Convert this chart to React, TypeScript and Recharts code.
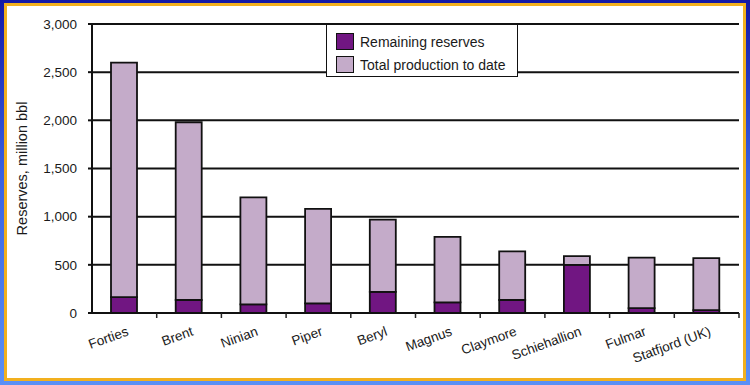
import React from "react";
import { BarChart, Bar, XAxis, YAxis, CartesianGrid, Label } from "recharts";

const fields = ["Forties", "Brent", "Ninian", "Piper", "Beryl", "Magnus", "Claymore", "Schiehallion", "Fulmar", "Statfjord (UK)"];
const remainingReserves = [165, 135, 90, 100, 220, 110, 135, 500, 50, 30];
const productionToDate = [2435, 1845, 1110, 980, 750, 680, 505, 90, 525, 540];
const yTicks = [0, 500, 1000, 1500, 2000, 2500, 3000];
const seriesNames = ["Remaining reserves", "Total production to date"];
const seriesColors = ["#711682", "#c4abc9"];

const data = fields.map((f, i) => ({
  field: f,
  remaining: remainingReserves[i],
  production: productionToDate[i],
}));

const W = 750;
const H = 385;
const MARGIN = { top: 24, right: 11, bottom: 32, left: 0 };
const Y_AXIS_W = 92;
const X_AXIS_H = 40;
const HALF_BAND = (W - MARGIN.right - MARGIN.left - Y_AXIS_W) / fields.length / 2;
const FONT = "'Liberation Sans', Arial, Helvetica, sans-serif";

const fmt = (v: number) => v.toLocaleString("en-US");

const XTick = (props: any) => {
  const { x, y, payload } = props;
  const tx = x + 5;
  const ty = y + 22;
  return (
    <g>
      <line x1={x + HALF_BAND} y1={y} x2={x + HALF_BAND} y2={y + 5} stroke="#222" strokeWidth={1.5} />
      <text
        x={tx}
        y={ty}
        textAnchor="end"
        fontSize={13.5}
        fontFamily={FONT}
        fill="#1a1a1a"
        transform={`rotate(-20, ${tx}, ${ty})`}
      >
        {payload.value}
      </text>
    </g>
  );
};

const YLabel = (props: any) => {
  const vb = props.viewBox || { x: 0, y: 0, height: 0 };
  const cx = vb.x + 22;
  const cy = vb.y + vb.height / 2;
  return (
    <text
      x={cx}
      y={cy}
      textAnchor="middle"
      dominantBaseline="central"
      fontSize={14.5}
      fontFamily={FONT}
      fill="#1a1a1a"
      transform={`rotate(-90, ${cx}, ${cy})`}
    >
      Reserves, million bbl
    </text>
  );
};

export default function App() {
  return (
    <div
      style={{
        position: "absolute",
        left: 0,
        top: 0,
        width: W,
        height: H,
        boxSizing: "border-box",
        background: "linear-gradient(to bottom, #1418a6 0%, #3a62e0 45%, #5b90f6 100%)",
        paddingTop: 3,
        paddingLeft: 4,
        paddingRight: 4,
        paddingBottom: 4,
      }}
    >
      <div
        style={{
          width: "100%",
          height: "100%",
          boxSizing: "border-box",
          border: "3px solid #f2b01e",
          background: "#ffffff",
        }}
      />
      <div style={{ position: "absolute", left: 0, top: 0 }}>
        <BarChart width={W} height={H} data={data} margin={MARGIN} barSize={26}>
          <CartesianGrid vertical={false} stroke="#111" strokeWidth={2} yAxisId="left" />
          <XAxis
            dataKey="field"
            height={X_AXIS_H}
            interval={0}
            tick={<XTick />}
            tickLine={false}
            tickSize={0}
            tickMargin={0}
            axisLine={{ stroke: "#111", strokeWidth: 2 }}
          />
          <YAxis
            yAxisId="left"
            width={Y_AXIS_W}
            domain={[0, 3000]}
            ticks={yTicks}
            interval={0}
            tickFormatter={fmt}
            tickSize={4}
            tickMargin={11}
            tick={{ fontSize: 13.5, fontFamily: FONT, fill: "#1a1a1a" }}
            tickLine={{ stroke: "#111", strokeWidth: 2 }}
            axisLine={{ stroke: "#111", strokeWidth: 2 }}
          >
            <Label content={<YLabel />} />
          </YAxis>
          <YAxis
            yAxisId="right"
            orientation="right"
            width={0}
            domain={[0, 3000]}
            ticks={yTicks}
            tick={false}
            tickLine={false}
            axisLine={{ stroke: "#1a2a1a", strokeWidth: 2 }}
          />
          <Bar
            yAxisId="left"
            dataKey="remaining"
            name={seriesNames[0]}
            stackId="a"
            fill={seriesColors[0]}
            stroke="#111"
            strokeWidth={1.8}
            isAnimationActive={false}
          />
          <Bar
            yAxisId="left"
            dataKey="production"
            name={seriesNames[1]}
            stackId="a"
            fill={seriesColors[1]}
            stroke="#111"
            strokeWidth={1.8}
            isAnimationActive={false}
          />
        </BarChart>
      </div>
      <div
        style={{
          position: "absolute",
          left: 326,
          top: 24,
          width: 192,
          height: 53,
          boxSizing: "border-box",
          border: "1.5px solid #111",
          background: "#fff",
          fontFamily: FONT,
          fontSize: 14,
          color: "#1a1a1a",
          paddingTop: 5,
          paddingLeft: 9,
        }}
      >
        {seriesNames.map((n, i) => (
          <div key={n} style={{ display: "flex", alignItems: "center", height: 23 }}>
            <div
              style={{
                width: 18,
                height: 17,
                boxSizing: "border-box",
                border: "1.5px solid #111",
                background: seriesColors[i],
                marginRight: 6,
              }}
            />
            <span style={{ whiteSpace: "nowrap" }}>{n}</span>
          </div>
        ))}
      </div>
    </div>
  );
}
